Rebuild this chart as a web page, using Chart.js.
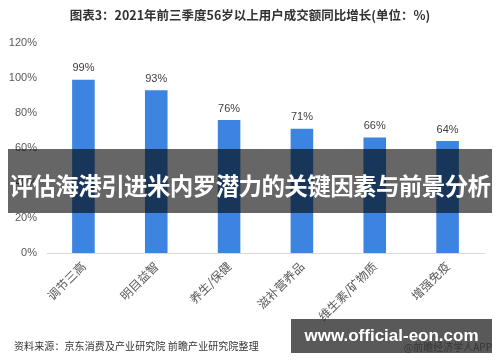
<!DOCTYPE html>
<html>
<head>
<meta charset="utf-8">
<script src="https://cdn.jsdelivr.net/npm/chart.js@4"></script>
<style>
  html, body { margin: 0; padding: 0; background: #fff; }
  #wrap { position: relative; width: 500px; height: 362px; overflow: hidden; font-family: "Noto Sans CJK SC", "Liberation Sans", sans-serif; }
  #chart { position: absolute; left: 0; top: 0; }
  .title { position: absolute; left: 0; width: 500px; top: 6px; text-align: center; font-size: 12.5px; font-weight: bold; color: #333; line-height: 18px; }
  .source { position: absolute; left: 14px; top: 339px; font-size: 10px; color: #333; line-height: 14px; letter-spacing: 0.1px; }
  .app { position: absolute; right: 8px; top: 340px; font-size: 10px; color: #999; line-height: 14px; }
  .banner { position: absolute; left: 8px; top: 149px; width: 484px; height: 64px; background: rgba(0,0,0,0.6); overflow: hidden; }
  .banner span { position: absolute; left: 0; width: 484px; top: 4px; color: #fff; font-weight: bold; font-size: 23.5px; line-height: 64px;
                 text-align: center; white-space: nowrap; letter-spacing: -0.6px; }
  .pill { position: absolute; left: 291px; top: 319px; width: 201px; height: 34px; background: rgba(0,0,0,0.65);
          color: #fff; font-family: "Liberation Sans", sans-serif; font-weight: bold; font-size: 17px; line-height: 34px; text-align: center; white-space: nowrap; }
</style>
</head>
<body>
<div id="wrap">
  <canvas id="chart" width="500" height="362"></canvas>
  <div class="title">图表3：2021年前三季度56岁以上用户成交额同比增长(单位：%)</div>
  <div class="source">资料来源：京东消费及产业研究院 前瞻产业研究院整理</div>
  <div class="app">@前瞻经济学人APP</div>
  <div class="banner"><span>评估海港引进米内罗潜力的关键因素与前景分析</span></div>
  <div class="pill">www.official-eon.com</div>
</div>
<script>
// values
const categories = ['调节三高', '明目益智', '养生/保健', '滋补营养品', '维生素/矿物质', '增强免疫'];
const growth = [99, 93, 76, 71, 66, 64];
const yTicks = [0, 20, 40, 60, 80, 100, 120];

const barColor = '#3C84E0';

// value labels above each bar
const valueLabels = {
  id: 'valueLabels',
  afterDatasetsDraw(chart) {
    const ctx = chart.ctx;
    const meta = chart.getDatasetMeta(0);
    ctx.save();
    ctx.font = '11px "Liberation Sans", sans-serif';
    ctx.fillStyle = '#404040';
    ctx.textAlign = 'center';
    ctx.textBaseline = 'bottom';
    meta.data.forEach((bar, i) => {
      ctx.fillText(growth[i] + '%', bar.x, bar.y - 6);
    });
    ctx.restore();
  }
};

new Chart(document.getElementById('chart'), {
  type: 'bar',
  data: {
    labels: categories,
    datasets: [{
      data: growth,
      backgroundColor: barColor,
      barPercentage: 0.62,
      categoryPercentage: 0.5
    }]
  },
  options: {
    responsive: false,
    animation: false,
    layout: { padding: { top: 43, right: 16, left: 0, bottom: 0 } },
    plugins: {
      legend: { display: false },
      tooltip: { enabled: false }
    },
    scales: {
      x: {
        afterFit(scale) { scale.height = 109; },
        grid: { display: false, drawTicks: false },
        border: { display: true, color: '#d9d9d9', width: 1 },
        ticks: {
          maxRotation: 45,
          minRotation: 45,
          padding: 6,
          color: '#595959',
          font: { size: 12, family: '"Noto Sans CJK SC", sans-serif' }
        }
      },
      y: {
        min: yTicks[0],
        max: yTicks[yTicks.length - 1],
        afterFit(scale) { scale.width = 47; },
        afterBuildTicks(scale) { scale.ticks = yTicks.map(v => ({ value: v })); },
        grid: { display: false, drawTicks: false },
        border: { display: false },
        ticks: {
          padding: 10,
          color: '#595959',
          font: { size: 11, family: '"Liberation Sans", sans-serif' },
          callback: v => v + '%'
        }
      }
    }
  },
  plugins: [valueLabels]
});
</script>
</body>
</html>
